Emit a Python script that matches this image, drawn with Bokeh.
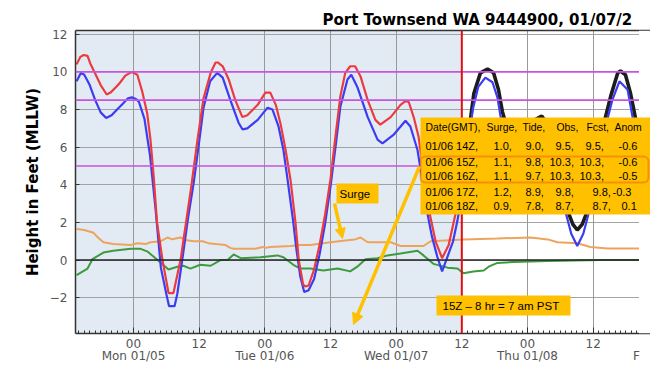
from bokeh.plotting import figure
from bokeh.models import (Range1d, FixedTicker, LinearAxis, Span, BoxAnnotation,
                          Label, Arrow, NormalHead)
from bokeh.embed import file_html
from bokeh.resources import INLINE

# ---------------- data (hours since 00Z Mon 01/05, feet MLLW) ----------------
obs_hours = [-10.4, -9.7, -9.1, -8.4, -7.9, -6.9, -6.0, -4.9, -4.2, -3.0, -2.4, -1.5, -0.3,
             0.7, 1.6, 2.5, 3.1, 3.7, 4.3, 5.3, 6.4, 7.3, 8.6, 9.6, 10.6, 11.6, 12.8, 14.1,
             15.0, 15.4, 16.3, 17.4, 18.6, 19.9, 20.8, 22.7, 24.1, 25.0, 26.0, 26.9, 27.8,
             28.7, 29.6, 30.2, 31.0, 31.4, 32.0, 33.0, 34.0, 35.0, 36.0, 37.0, 37.8, 38.7,
             39.6, 40.5, 41.5, 42.8, 44.2, 45.1, 47.0, 48.8, 49.7, 50.3, 51.2, 52.1, 53.0,
             54.1, 55.2, 56.4, 57.6, 58.8, 60.0]
obs_feet = [10.4, 10.8, 10.9, 10.85, 10.45, 9.85, 9.3, 8.8, 8.9, 9.25, 9.45, 9.8, 10.0,
            9.85, 8.95, 7.8, 6.4, 4.4, 2.0, 0.0, -1.75, -1.75, 0.0, 2.0, 4.0, 6.2, 8.6, 9.95,
            10.5, 10.5, 10.3, 9.6, 8.5, 7.6, 7.7, 8.25, 8.9, 8.9, 8.25, 7.2, 5.85,
            4.25, 2.0, 0.0, -1.3, -1.4, -1.35, -0.5, 0.8, 2.4, 4.3, 6.8, 8.7, 9.95,
            10.3, 10.3, 9.75, 8.5, 7.45, 7.2, 7.6, 8.25, 8.45, 8.4, 7.6, 6.55, 4.6,
            2.5, 1.0, 0.1, 0.8, 2.4, 4.3]

tide_hours = [-10.4, -9.6, -9.0, -8.0, -7.0, -6.0, -5.0, -4.0, -3.0, -2.0, -1.0, -0.3, 0.5,
              1.0, 2.0, 3.0, 4.0, 5.0, 6.0, 6.5, 7.5, 8.0, 9.0, 10.0, 11.0, 12.0, 12.8, 14.0,
              15.3, 16.3, 17.7, 19.2, 19.9, 20.8, 22.7, 24.5, 25.4, 26.5, 27.4, 28.1, 29.2,
              29.8, 30.5, 31.2, 32.0, 33.0, 34.0, 35.0, 36.0, 37.0, 37.8, 39.1, 39.8, 40.9,
              42.8, 44.6, 45.5, 47.5, 49.7, 50.6, 51.9, 52.8, 53.7, 54.5, 55.5, 56.4, 57.4,
              58.4, 59.2, 60.2, 61.0, 62.0, 63.0, 64.3, 65.6, 66.5, 67.1, 68.0, 69.5, 71.0,
              73.0, 74.5, 76.0, 77.5, 79.0, 80.0, 81.1, 82.2, 83.2, 84.0, 85.0, 86.0, 87.5,
              88.8, 90.3, 91.2, 92.2, 93.2]
tide_feet = [9.5, 9.95, 9.85, 9.3, 8.5, 7.85, 7.55, 7.7, 8.0, 8.3, 8.6, 8.65, 8.55,
             8.4, 7.5, 5.6, 2.8, -0.4, -1.8, -2.45, -2.45, -1.8, 0.2, 2.3, 4.1, 6.3, 8.1, 9.5,
             9.95, 9.7, 8.5, 7.3, 6.95, 7.0, 7.45, 8.1, 8.0, 7.1, 5.85, 4.4, 2.0,
             0.5, -0.9, -1.7, -1.6, -1.0, 0.3, 1.9, 3.9, 6.2, 8.15, 9.6, 9.85, 9.2,
             7.6, 6.4, 6.2, 6.65, 7.4, 7.1, 5.85, 4.2, 2.5, 1.3, 0.2, -0.6, 0.2,
             1.0, 2.1, 3.8, 5.8, 8.0, 9.2, 9.7, 9.45, 8.65, 7.6, 6.6, 6.0, 6.2,
             6.8, 7.05, 6.5, 4.8, 2.5, 1.4, 0.75, 1.4, 2.5, 3.8, 5.3, 6.8, 8.5,
             9.5, 9.05, 7.6, 6.0, 4.5]

fcst_hours = [60.0, 61.0, 62.2, 63.4, 64.7, 65.8, 66.7, 67.4, 68.2, 69.6, 71.0, 73.0, 74.6,
              76.0, 77.5, 78.5, 79.5, 80.3, 81.1, 82.0, 82.8, 84.0, 85.0, 86.0, 87.2, 88.5,
              89.0, 89.9, 90.8, 91.7, 92.5, 93.2]
fcst_feet = [4.3, 6.2, 8.85, 9.95, 10.15, 9.95, 9.05, 7.9, 7.1, 6.6, 6.8, 7.4, 7.65,
             7.1, 5.4, 3.7, 2.5, 1.9, 1.6, 1.9, 2.5, 4.3, 5.9, 7.3, 8.7, 9.95,
             10.05, 9.85, 8.9, 7.6, 6.3, 5.0]

surge_hours = [-10.4, -9.0, -7.3, -6.5, -5.5, -3.7, -0.5, 0.7, 2.2, 3.1, 4.9, 6.2, 7.1, 7.7,
               8.6, 9.7, 11.0, 12.6, 13.7, 15.0, 16.8, 17.7, 18.3, 22.3, 23.6, 24.1, 25.0,
               28.7, 30.5, 32.3, 36.0, 39.1, 40.5, 41.5, 42.8, 47.0, 48.8, 53.0, 54.3, 60.3,
               66.5, 72.6, 75.7, 77.5, 81.1, 83.5, 86.6, 93.2]
surge_feet = [1.65, 1.6, 1.45, 1.2, 0.95, 0.85, 0.8, 0.9, 0.85, 0.95, 1.0, 1.2, 1.1, 1.15,
              1.2, 1.05, 1.0, 1.0, 0.9, 0.85, 0.8, 0.65, 0.6, 0.6, 0.7, 0.65, 0.7,
              0.75, 0.8, 0.8, 0.95, 1.05, 1.1, 1.2, 0.95, 0.95, 0.75, 0.75, 1.0, 1.1,
              1.15, 1.2, 1.1, 0.95, 0.9, 0.7, 0.62, 0.62]

anom_hours = [-10.4, -8.4, -7.5, -5.5, -3.7, -0.5, 1.3, 2.6, 4.4, 6.4, 8.0, 9.1, 10.4, 12.2,
              14.1, 15.9, 17.2, 18.3, 19.6, 23.2, 26.3, 27.4, 29.2, 30.5, 32.3, 34.7, 37.3,
              39.6, 40.9, 42.4, 44.6, 46.4, 48.8, 51.9, 53.0, 54.8, 57.4, 59.2, 60.3, 62.1,
              64.0, 64.9, 66.5, 69.4, 75.7, 85.3, 93.2]
anom_feet = [-0.8, -0.45, 0.05, 0.4, 0.5, 0.6, 0.6, 0.45, 0.0, -0.5, -0.35, -0.3, -0.45, -0.25,
             -0.3, 0.0, 0.0, 0.3, 0.1, 0.15, 0.25, 0.15, -0.25, -0.45, -0.45, -0.55, -0.45,
             -0.6, -0.35, 0.05, 0.1, 0.25, 0.35, 0.5, 0.25, -0.2, -0.4, -0.45, -0.7, -0.6,
             -0.55, -0.35, -0.15, -0.1, -0.05, 0.0, 0.0]

thresholds = [10.0, 8.5, 5.0]
now_hour = 60
x_tick_hours = [0, 12, 24, 36, 48, 60, 72, 84]
x_tick_labels = ["00", "12", "00", "12", "00", "12", "00", "12"]
day_hours = [0, 24, 48, 72]
day_labels = ["Mon 01/05", "Tue 01/06", "Wed 01/07", "Thu 01/08"]
y_ticks = [-2, 0, 2, 4, 6, 8, 10, 12]
y_tick_labels = ["\u22122", "0", "2", "4", "6", "8", "10", "12"]

title_text = "Port Townsend WA 9444900, 01/07/2"
table_header = ["Date(GMT),", "Surge,", "Tide,", "Obs,", "Fcst,", "Anom"]
table_times = ["01/06 14Z", "01/06 15Z", "01/06 16Z", "01/06 17Z", "01/06 18Z"]
table_surge = [1.0, 1.1, 1.1, 1.2, 0.9]
table_tide = [9.0, 9.8, 9.7, 8.9, 7.8]
table_obs = [9.5, 10.3, 10.3, 9.8, 8.7]
table_fcst = [9.5, 10.3, 10.3, 9.8, 8.7]
table_anom = [-0.6, -0.6, -0.5, -0.3, 0.1]

# ---------------- frame geometry & pixel helpers ----------------
BL, BR, BT, BB = 75, 0, 30, 33
W, H = 650, 366
FW, FH = W - BL - BR, H - BT - BB
PX_PER_HOUR = 5.472
X0 = -10.6
X1 = X0 + FW / PX_PER_HOUR
Y0, Y1 = -3.9, 12.2
FL, FT = BL, BT
PLOT_RIGHT_PX = 638          # visible right edge of the original axes


def xd(px):
    return X0 + (px - FL) * (X1 - X0) / FW


def yd(py):
    return Y1 - (py - FT) * (Y1 - Y0) / FH


GOLD = "#FFC000"
BLUE_BG = "#e2ebf4"

p = figure(x_range=Range1d(X0, X1), y_range=Range1d(Y0, Y1),
           width=W, height=H,
           min_border_left=BL, min_border_right=BR, min_border_top=BT, min_border_bottom=BB,
           output_backend="svg", toolbar_location=None,
           background_fill_color="white", border_fill_color="white",
           outline_line_color=None)

# title
p.title.text = title_text
p.title.text_font = "DejaVu Sans"
p.title.text_font_size = "15px"
p.title.text_font_style = "bold"
p.title.text_color = "black"
p.title.align = "left"
p.title.offset = 322 - BL
p.title.standoff = 3

# shaded "past" region (under grid)
p.add_layout(BoxAnnotation(right=now_hour, fill_color=BLUE_BG, fill_alpha=1.0,
                           line_color=None, level="image"))

# axes styling
p.xaxis.ticker = FixedTicker(ticks=x_tick_hours, minor_ticks=list(range(-10, 95)))
p.xaxis.major_label_overrides = {h: s for h, s in zip(x_tick_hours, x_tick_labels)}
p.yaxis.ticker = FixedTicker(ticks=y_ticks)
p.yaxis.major_label_overrides = {v: s for v, s in zip(y_ticks, y_tick_labels)}

for ax in (p.xaxis[0], p.yaxis[0]):
    ax.axis_line_color = "#333333"
    ax.axis_line_width = 1.5
    ax.major_tick_line_color = "#333333"
    ax.minor_tick_line_color = "#333333"
    ax.major_tick_out = 0
    ax.minor_tick_out = 0
    ax.major_label_text_font = "DejaVu Sans"
    ax.major_label_text_font_size = "12px"
    ax.major_label_text_color = "#555555"

p.xaxis.major_tick_in = 6
p.xaxis.minor_tick_in = 3
p.xaxis.major_label_standoff = 5
p.yaxis.major_tick_in = 4
p.yaxis.minor_tick_line_color = None
p.yaxis.major_label_standoff = 8
p.yaxis.axis_label = "Height in Feet (MLLW)"
p.yaxis.axis_label_text_font = "DejaVu Sans"
p.yaxis.axis_label_text_font_size = "15px"
p.yaxis.axis_label_text_font_style = "bold"
p.yaxis.axis_label_text_color = "black"
p.yaxis.axis_label_standoff = 5

# second row of x labels: day names (plus the clipped start of the next day)
f_hour = xd(636)
day_axis = LinearAxis(ticker=FixedTicker(ticks=day_hours + [f_hour]),
                      major_label_overrides={**{h: s for h, s in zip(day_hours, day_labels)},
                                             f_hour: "F"},
                      axis_line_color=None, major_tick_line_color=None,
                      minor_tick_line_color=None, major_label_standoff=-8,
                      major_label_text_font="DejaVu Sans", major_label_text_font_size="12px",
                      major_label_text_color="#555555")
p.add_layout(day_axis, "below")

top_axis = LinearAxis(ticker=FixedTicker(ticks=[]), major_label_text_font_size="0px",
                      axis_line_color="#333333", axis_line_width=1.5,
                      major_tick_line_color=None, minor_tick_line_color=None,
                      major_label_standoff=0)
p.add_layout(top_axis, "above")

p.xgrid.grid_line_color = "#8f8f8f"
p.ygrid.grid_line_color = "#9a9a9a"
p.xgrid.grid_line_alpha = 0.9
p.ygrid.grid_line_alpha = 0.9

# threshold lines, zero line
for t in thresholds:
    p.add_layout(Span(location=t, dimension="width", line_color="#c455dc", line_width=1.6))
p.add_layout(Span(location=0, dimension="width", line_color="#222222", line_width=1.5))

# series
p.line(surge_hours, surge_feet, line_color="#eea35c", line_width=2)
p.line(anom_hours, anom_feet, line_color="#3d9a3d", line_width=2)
p.line(fcst_hours, fcst_feet, line_color="#1c1c1c", line_width=3.6)
p.line(tide_hours, tide_feet, line_color="#3c3cf2", line_width=2.2)
p.line(obs_hours, obs_feet, line_color="#ec3b3f", line_width=2.2)

p.add_layout(Span(location=now_hour, dimension="height", line_color="#e01010", line_width=2))

# the original image is cropped at its right edge: blank strip
p.add_layout(BoxAnnotation(left=xd(PLOT_RIGHT_PX + 0.5), fill_color="white", fill_alpha=1.0,
                           line_color=None))

# ---------------- annotations ----------------
p.add_layout(BoxAnnotation(left=xd(420), right=xd(660), top=yd(117), bottom=yd(214),
                           fill_color=GOLD, fill_alpha=1.0, line_color=None))
try:
    hl = BoxAnnotation(left=xd(420), right=xd(648), top=yd(156), bottom=yd(182),
                       fill_alpha=0.0, line_color="#e02020", line_width=2, border_radius=5)
except Exception:
    hl = BoxAnnotation(left=xd(420), right=xd(648), top=yd(156), bottom=yd(182),
                       fill_alpha=0.0, line_color="#e02020", line_width=2)
p.add_layout(hl)


def txt(s, px, py, size="11px", align="left"):
    p.add_layout(Label(x=xd(px), y=yd(py), text=s, text_font="Liberation Sans",
                       text_font_size=size, text_color="black",
                       text_baseline="middle", text_align=align))


header_x = [425, 486, 522, 556, 586, 614]
for s, hx in zip(table_header, header_x):
    txt(s, hx, 127, size="10.4px")

row_y = [145.5, 161, 175.5, 191, 205.5]
surge_x = [493, 493, 493, 493, 493]
tide_x = [525, 525, 525, 525, 525]
obs_x = [555, 549, 549, 555, 555]
fcst_x = [585, 579, 579, 592, 592]
anom_x = [618, 618, 618, 612, 621]
for i in range(len(table_times)):
    y = row_y[i]
    txt(table_times[i] + ",", 425, y)
    txt(f"{table_surge[i]:.1f},", surge_x[i], y)
    txt(f"{table_tide[i]:.1f},", tide_x[i], y)
    txt(f"{table_obs[i]:.1f},", obs_x[i], y)
    txt(f"{table_fcst[i]:.1f},", fcst_x[i], y)
    txt(f"{table_anom[i]:.1f}", anom_x[i], y)

# Surge box + arrow
p.add_layout(BoxAnnotation(left=xd(336), right=xd(378), top=yd(183), bottom=yd(203),
                           fill_color=GOLD, fill_alpha=1.0, line_color=None))
txt("Surge", 339, 193, size="11.5px")
p.add_layout(Arrow(end=NormalHead(size=10, fill_color=GOLD, line_color=GOLD),
                   x_start=xd(334), y_start=yd(203), x_end=xd(342), y_end=yd(238),
                   line_color=GOLD, line_width=3.5))

# long arrow from table to the time axis
p.add_layout(Arrow(end=NormalHead(size=11, fill_color=GOLD, line_color=GOLD),
                   x_start=xd(419), y_start=yd(166), x_end=xd(353), y_end=yd(324),
                   line_color=GOLD, line_width=3.5))

# PST note box
p.add_layout(BoxAnnotation(left=xd(436), right=xd(570), top=yd(295), bottom=yd(315),
                           fill_color=GOLD, fill_alpha=1.0, line_color=None))
txt("15Z \u2013 8 hr = 7 am PST", 442, 305, size="11.5px")

open("out.html", "w").write(file_html(p, INLINE))
